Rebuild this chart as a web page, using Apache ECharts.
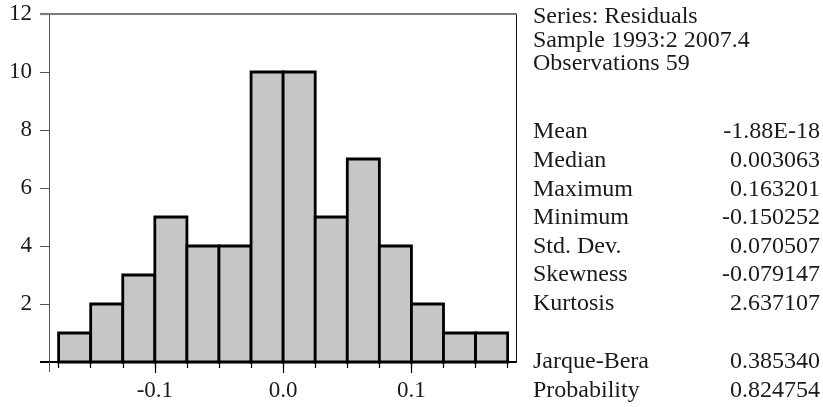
<!DOCTYPE html>
<html>
<head>
<meta charset="utf-8">
<script src="https://cdn.jsdelivr.net/npm/echarts@6/dist/echarts.min.js"></script>
<style>
  html, body { margin: 0; padding: 0; background: #fff; }
  #chart { width: 823px; height: 407px; }
</style>
</head>
<body>
<div id="chart"></div>
<script>
// ---- data ----
const binLower = [-0.175, -0.15, -0.125, -0.1, -0.075, -0.05, -0.025, 0.0, 0.025, 0.05, 0.075, 0.1, 0.125, 0.15];
const binUpper = [-0.15, -0.125, -0.1, -0.075, -0.05, -0.025, 0.0, 0.025, 0.05, 0.075, 0.1, 0.125, 0.15, 0.175];
const counts   = [1, 2, 3, 5, 4, 4, 10, 10, 5, 7, 4, 2, 1, 1];
const xMinorTicks = [-0.175, -0.15, -0.125, -0.1, -0.075, -0.05, -0.025, 0.0, 0.025, 0.05, 0.075, 0.1, 0.125, 0.15, 0.175];
const xMajorTicks = [-0.1, 0.0, 0.1];
const xTickLabels = ['-0.1', '0.0', '0.1'];
const yTickValues = [2, 4, 6, 8, 10, 12];
const headerLines = ['Series: Residuals', 'Sample 1993:2 2007.4', 'Observations 59'];
const statNames  = ['Mean', 'Median', 'Maximum', 'Minimum', 'Std. Dev.', 'Skewness', 'Kurtosis', 'Jarque-Bera', 'Probability'];
const statValues = ['-1.88E-18', '0.003063', '0.163201', '-0.150252', '0.070507', '-0.079147', '2.637107', '0.385340', '0.824754'];

// ---- layout ----
const X_MIN = -0.1825, X_MAX = 0.1815;
const FAMILY = '"Liberation Serif", "Times New Roman", serif';
const FONT = '24px ' + FAMILY;
const TXT = '#1a1a1a';
const headerY = [17, 41, 64];
const statY = [132, 160.5, 189.5, 218, 246.5, 275, 304, 362, 391];

const chart = echarts.init(document.getElementById('chart'), null, { renderer: 'canvas' });

const barData = binLower.map((lo, i) => [lo, binUpper[i], counts[i]]);

const graphicEls = [];
headerLines.forEach((t, i) => {
  graphicEls.push({ type: 'text', style: { text: t, x: 533, y: headerY[i], font: FONT, fill: TXT, textAlign: 'left', textVerticalAlign: 'middle' } });
});
statNames.forEach((t, i) => {
  graphicEls.push({ type: 'text', style: { text: t, x: 533, y: statY[i], font: FONT, fill: TXT, textAlign: 'left', textVerticalAlign: 'middle' } });
  graphicEls.push({ type: 'text', style: { text: statValues[i], x: 820, y: statY[i], font: FONT, fill: TXT, textAlign: 'right', textVerticalAlign: 'middle' } });
});

const baseX = { type: 'value', min: X_MIN, max: X_MAX, gridIndex: 0, splitLine: { show: false } };
const baseY = { type: 'value', min: 0, max: 12, interval: 2, gridIndex: 0, splitLine: { show: false } };

chart.setOption({
  animation: false,
  backgroundColor: '#ffffff',
  grid: { left: 49, top: 14, right: 307, bottom: 45, containLabel: false },
  xAxis: [
    Object.assign({}, baseX, {
      position: 'bottom',
      axisLine: { show: true, onZero: false, lineStyle: { color: '#000', width: 2 } },
      axisTick: { show: true, length: 6, inside: false, customValues: xMinorTicks, lineStyle: { color: '#000', width: 1.2 } },
      axisLabel: { show: false }
    }),
    Object.assign({}, baseX, {
      position: 'bottom',
      axisLine: { show: false, onZero: false },
      axisTick: { show: true, length: 11, customValues: xMajorTicks, lineStyle: { color: '#000', width: 1.2 } },
      axisLabel: {
        show: true, customValues: xMajorTicks, margin: 17,
        fontFamily: FAMILY, fontSize: 23, color: TXT,
        formatter: v => { const k = xMajorTicks.findIndex(m => Math.abs(m - v) < 1e-9); return k >= 0 ? xTickLabels[k] : ''; }
      }
    }),
    Object.assign({}, baseX, {
      position: 'bottom',
      axisLine: { show: false, onZero: false },
      axisTick: { show: true, length: 10, customValues: [X_MIN], lineStyle: { color: '#555', width: 1 } },
      axisLabel: { show: false }
    }),
    Object.assign({}, baseX, {
      position: 'top',
      axisLine: { show: true, onZero: false, lineStyle: { color: '#7a7a7a', width: 2.2 } },
      axisTick: { show: false },
      axisLabel: { show: false }
    })
  ],
  yAxis: [
    Object.assign({}, baseY, {
      position: 'left',
      axisLine: { show: true, onZero: false, lineStyle: { color: '#555', width: 1 } },
      axisTick: { show: true, length: 9, customValues: [2, 4, 6, 8, 10], lineStyle: { color: '#555', width: 1 } },
      axisLabel: {
        show: true, customValues: yTickValues, margin: 17,
        fontFamily: FAMILY, fontSize: 23, color: TXT
      }
    }),
    Object.assign({}, baseY, {
      position: 'left',
      axisLine: { show: false, onZero: false },
      axisTick: { show: true, length: 9, customValues: [0], lineStyle: { color: '#000', width: 2 } },
      axisLabel: { show: false }
    }),
    Object.assign({}, baseY, {
      position: 'left',
      axisLine: { show: false, onZero: false },
      axisTick: { show: true, length: 9, customValues: [12], lineStyle: { color: '#7a7a7a', width: 2.2 } },
      axisLabel: { show: false }
    }),
    Object.assign({}, baseY, {
      position: 'right',
      axisLine: { show: true, onZero: false, lineStyle: { color: '#111', width: 1 } },
      axisTick: { show: false },
      axisLabel: { show: false }
    })
  ],
  series: [{
    type: 'custom',
    xAxisIndex: 0,
    yAxisIndex: 0,
    data: barData,
    encode: { x: [0, 1], y: 2 },
    z: 3,
    renderItem: function (params, api) {
      const lo = api.value(0), hi = api.value(1), c = api.value(2);
      const p1 = api.coord([lo, c]);
      const p2 = api.coord([hi, 0]);
      return {
        type: 'rect',
        shape: { x: p1[0], y: p1[1], width: p2[0] - p1[0], height: p2[1] - p1[1] },
        style: { fill: '#c6c6c8', stroke: '#000', lineWidth: 2.8 }
      };
    }
  }],
  graphic: graphicEls
});
</script>
</body>
</html>
